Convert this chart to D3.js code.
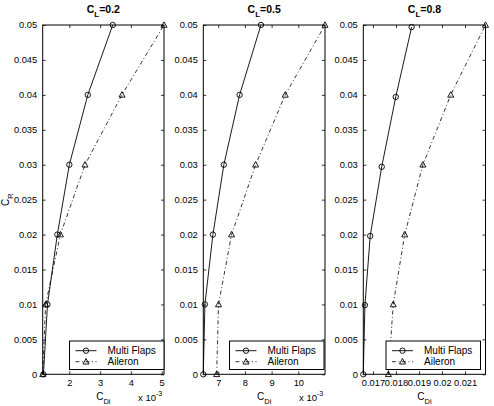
<!DOCTYPE html>
<html lang="en">
<head>
    <meta charset="UTF-8">
    <script src="https://d3js.org/d3.v7.min.js"></script>
    <style>
        body { margin: 0; background: #fff; }
        text { font-family: "Liberation Sans", Arial, sans-serif; fill: #000; }
    </style>
    <title>C_R vs C_Di</title>
</head>
<body>
<div id="chart"></div>
<script>
    // C_R values (y) shared by most series
    var crValues = [0, 0.01, 0.02, 0.03, 0.04, 0.05];
    // multi flaps in the CL=0.8 panel sits a hair lower
    var crValuesMf08 = [0, 0.0099, 0.0198, 0.0297, 0.0397, 0.0497];

    var panelTitles = ["0.2", "0.5", "0.8"];

    // C_Di
    var multiFlaps02 = [0.00116, 0.00129, 0.00161, 0.00200, 0.00260, 0.00341];
    var aileron02    = [0.001135, 0.00123, 0.00171, 0.00251, 0.00371, 0.005075];
    var multiFlaps05 = [0.00644, 0.00650, 0.00680, 0.00721, 0.00780, 0.00860];
    var aileron05    = [0.00694, 0.00701, 0.00750, 0.00840, 0.00951, 0.01100];
    var multiFlaps08 = [0.01658, 0.01665, 0.01688, 0.01738, 0.01799, 0.01868];
    var aileron08    = [0.01767, 0.01788, 0.01838, 0.01917, 0.02038, 0.02189];

    var xTicks02 = [0.002, 0.003, 0.004, 0.005];
    var xTicks05 = [0.007, 0.008, 0.009, 0.010];
    var xTicks08 = [0.017, 0.018, 0.019, 0.020, 0.021];
    var yTicks = d3.range(0, 0.0501, 0.005);

    var legendLabels = ["Multi Flaps", "Aileron"];

    var W = 494, H = 406;
    var plotTop = 25, plotBottom = 374.3;
    var tickFont = "9.3px";

    var panels = [
        {title: panelTitles[0], left: 42.7, right: 164, mf: multiFlaps02, mfY: crValues, ail: aileron02,
         ticks: xTicks02, fmt: function(d){ return d3.format("~g")(Math.round(d * 1000)); }, exp: true, legRight: 164},
        {title: panelTitles[1], left: 203.3, right: 325, mf: multiFlaps05, mfY: crValues, ail: aileron05,
         ticks: xTicks05, fmt: function(d){ return d3.format("~g")(Math.round(d * 1000)); }, exp: true, legRight: 324},
        {title: panelTitles[2], left: 363.3, right: 485.5, mf: multiFlaps08, mfY: crValuesMf08, ail: aileron08,
         ticks: xTicks08, fmt: d3.format("~g"), exp: false, legRight: 480.5}
    ];

    var svg = d3.select("#chart").append("svg")
        .attr("width", W)
        .attr("height", H);

    var y = d3.scaleLinear().domain([0, 0.05]).range([plotBottom, plotTop]);
    var yFmt = d3.format("~g");

    function triangle(g, cx, cy) {
        g.append("path")
            .attr("d", "M" + cx + "," + (cy - 3.2) + "L" + (cx + 3) + "," + (cy + 2.3) + "L" + (cx - 3) + "," + (cy + 2.3) + "Z")
            .attr("fill", "none").attr("stroke", "#000").attr("stroke-width", 0.9);
    }
    function circle(g, cx, cy) {
        g.append("circle").attr("cx", cx).attr("cy", cy).attr("r", 2.7)
            .attr("fill", "none").attr("stroke", "#000").attr("stroke-width", 0.9);
    }

    panels.forEach(function(p) {
        var all = p.mf.concat(p.ail);
        var x = d3.scaleLinear().domain(d3.extent(all)).range([p.left, p.right]);
        var g = svg.append("g");

        // ticks inside on all four sides
        g.append("g").attr("transform", "translate(0," + plotBottom + ")")
            .call(d3.axisBottom(x).tickValues(p.ticks).tickSizeInner(-3).tickSizeOuter(0).tickPadding(5.6).tickFormat(p.fmt))
            .call(function(a){ a.select(".domain").remove(); a.selectAll("text").attr("font-size", tickFont).attr("font-family", null).attr("fill", "#000"); a.selectAll("line").attr("stroke-width", 0.8); });
        g.append("g").attr("transform", "translate(0," + plotTop + ")")
            .call(d3.axisTop(x).tickValues(p.ticks).tickSizeInner(-3).tickSizeOuter(0).tickFormat(""))
            .call(function(a){ a.select(".domain").remove(); a.selectAll("line").attr("stroke-width", 0.8); });
        g.append("g").attr("transform", "translate(" + p.left + ",0)")
            .call(d3.axisLeft(y).tickValues(yTicks).tickSizeInner(-3).tickSizeOuter(0).tickPadding(5.5).tickFormat(yFmt))
            .call(function(a){ a.select(".domain").remove(); a.selectAll("text").attr("font-size", tickFont).attr("font-family", null).attr("fill", "#000"); a.selectAll("line").attr("stroke-width", 0.8); });
        g.append("g").attr("transform", "translate(" + p.right + ",0)")
            .call(d3.axisRight(y).tickValues(yTicks).tickSizeInner(-3).tickSizeOuter(0).tickFormat(""))
            .call(function(a){ a.select(".domain").remove(); a.selectAll("line").attr("stroke-width", 0.8); });

        g.append("rect")
            .attr("x", p.left).attr("y", plotTop)
            .attr("width", p.right - p.left).attr("height", plotBottom - plotTop)
            .attr("fill", "none").attr("stroke", "#000").attr("stroke-width", 1);

        var mfPts = p.mf.map(function(d, i){ return [x(d), y(p.mfY[i])]; });
        var ailPts = p.ail.map(function(d, i){ return [x(d), y(crValues[i])]; });
        var line = d3.line();

        g.append("path").attr("d", line(ailPts))
            .attr("fill", "none").attr("stroke", "#000").attr("stroke-width", 0.8)
            .attr("stroke-dasharray", "4,2.5,1,2.5");
        g.append("path").attr("d", line(mfPts))
            .attr("fill", "none").attr("stroke", "#000").attr("stroke-width", 0.9);
        mfPts.forEach(function(pt){ circle(g, pt[0], pt[1]); });
        ailPts.forEach(function(pt){ triangle(g, pt[0], pt[1]); });

        var cx = (p.left + p.right) / 2;
        // title
        var t = g.append("text").attr("x", cx).attr("y", 13).attr("text-anchor", "middle")
            .attr("font-size", "10.5px").attr("font-weight", "bold");
        t.append("tspan").text("C");
        t.append("tspan").attr("dy", 3.5).attr("font-size", "8px").text("L");
        t.append("tspan").attr("dy", -3.5).text("=" + p.title);

        // x label
        var xl = g.append("text").attr("x", cx).attr("y", 400).attr("text-anchor", "middle").attr("font-size", "10px");
        xl.append("tspan").text("C");
        xl.append("tspan").attr("dy", 3.5).attr("font-size", "7.5px").text("Di");

        if (p.exp) {
            var ex = g.append("text").attr("x", p.right - 26).attr("y", 400.5).attr("font-size", "9.5px");
            ex.append("tspan").text("x 10");
            ex.append("tspan").attr("dy", -5).attr("font-size", "7px").text("-3");
        }

        // legend
        var lw = 94.5, lh = 28.5;
        var lx = p.legRight - lw, ly = 341;
        var lg = g.append("g");
        lg.append("rect").attr("x", lx).attr("y", ly).attr("width", lw).attr("height", lh)
            .attr("fill", "#fff").attr("stroke", "#000").attr("stroke-width", 1);
        lg.append("line").attr("x1", lx + 6).attr("x2", lx + 27).attr("y1", ly + 9.7).attr("y2", ly + 9.7)
            .attr("stroke", "#000").attr("stroke-width", 0.9);
        circle(lg, lx + 16.5, ly + 9.7);
        lg.append("line").attr("x1", lx + 6).attr("x2", lx + 27).attr("y1", ly + 20.7).attr("y2", ly + 20.7)
            .attr("stroke", "#000").attr("stroke-width", 0.8).attr("stroke-dasharray", "4,2.5,1,2.5");
        triangle(lg, lx + 16.5, ly + 20.7);
        lg.selectAll(".lab").data(legendLabels).enter().append("text")
            .attr("class", "lab")
            .attr("x", lx + 38).attr("y", function(d, i){ return ly + 13.3 + i * 11; })
            .attr("font-size", "10px")
            .text(function(d){ return d; });
    });

    // y label
    var yl = svg.append("text").attr("transform", "translate(9," + ((plotTop + plotBottom) / 2) + ") rotate(-90)")
        .attr("text-anchor", "middle").attr("font-size", "10px");
    yl.append("tspan").text("C");
    yl.append("tspan").attr("dy", 3.5).attr("font-size", "7.5px").text("R");
</script>
</body>
</html>
